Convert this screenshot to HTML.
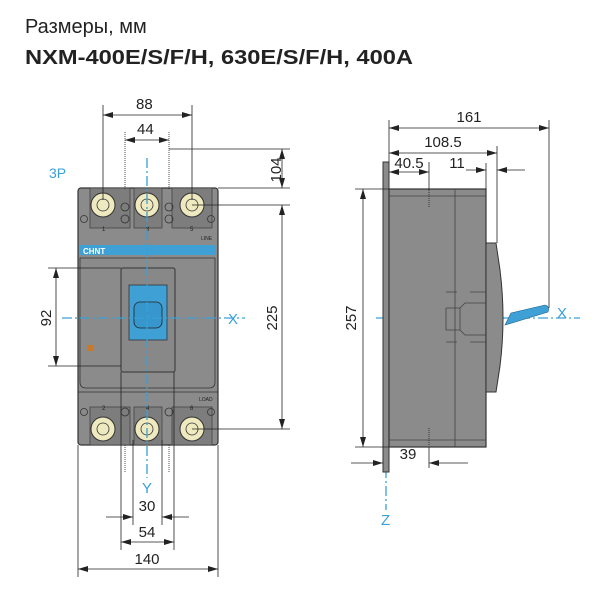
<!DOCTYPE html>
<html><head><meta charset="utf-8"><style>
html,body{margin:0;padding:0;background:#fff}
svg{display:block}
text{font-family:"Liberation Sans","DejaVu Sans",sans-serif;fill:#222}
</style></head><body>
<svg width="600" height="600" viewBox="0 0 600 600" xmlns="http://www.w3.org/2000/svg">
<defs>
<marker id="a" viewBox="0 0 10 6" refX="10" refY="3" markerWidth="10" markerHeight="6" orient="auto-start-reverse" markerUnits="userSpaceOnUse"><path d="M0,0 L10,3 L0,6z" fill="#222"/></marker>
</defs>
<text x="25" y="33" font-size="20">Размеры, мм</text>
<text x="25" y="64" font-size="20" font-weight="bold" textLength="388" lengthAdjust="spacingAndGlyphs">NXM-400E/S/F/H, 630E/S/F/H, 400A</text>

<!-- FRONT VIEW body -->
<rect x="78" y="188" width="140" height="257" rx="3" fill="#8b8b8b" stroke="#333" stroke-width="1.2"/>
<rect x="90" y="188" width="40" height="40" fill="#7d7d7d" stroke="#444" stroke-width="0.8"/>
<rect x="134" y="188" width="28" height="40" fill="#7d7d7d" stroke="#444" stroke-width="0.8"/>
<rect x="172" y="188" width="40" height="40" fill="#7d7d7d" stroke="#444" stroke-width="0.8"/>
<rect x="90" y="407" width="40" height="38" fill="#7d7d7d" stroke="#444" stroke-width="0.8"/>
<rect x="134" y="407" width="28" height="38" fill="#7d7d7d" stroke="#444" stroke-width="0.8"/>
<rect x="172" y="407" width="40" height="38" fill="#7d7d7d" stroke="#444" stroke-width="0.8"/>
<g fill="#efe9c0" stroke="#333" stroke-width="1">
<circle cx="103" cy="205" r="12"/><circle cx="147" cy="205" r="12"/><circle cx="192" cy="205" r="12"/>
<circle cx="103" cy="429" r="12"/><circle cx="147" cy="429" r="12"/><circle cx="192" cy="429" r="12"/>
</g>
<g fill="none" stroke="#333" stroke-width="0.8">
<circle cx="103" cy="205" r="6"/><circle cx="147" cy="205" r="6"/><circle cx="192" cy="205" r="6"/>
<circle cx="103" cy="429" r="6"/><circle cx="147" cy="429" r="6"/><circle cx="192" cy="429" r="6"/>
<circle cx="125" cy="207" r="4"/><circle cx="169" cy="207" r="4"/><circle cx="125" cy="219" r="4"/><circle cx="169" cy="219" r="4"/>
<circle cx="84" cy="219" r="3.5"/><circle cx="211" cy="219" r="3.5"/>
<circle cx="125" cy="412" r="4"/><circle cx="169" cy="412" r="4"/><circle cx="84" cy="412" r="3.5"/><circle cx="211" cy="412" r="3.5"/>
<path d="M80 258 H215 V382 Q215 388 209 388 H86 Q80 388 80 382Z"/>
<line x1="78" y1="392" x2="218" y2="392"/>
</g>
<text x="102" y="231" font-size="6" fill="#333">1</text><text x="146" y="231" font-size="6">3</text><text x="190" y="231" font-size="6">5</text>
<text x="201" y="240" font-size="5">LINE</text>
<text x="199" y="401" font-size="5">LOAD</text>
<text x="102" y="410" font-size="6">2</text><text x="146" y="410" font-size="6">4</text><text x="190" y="410" font-size="6">6</text>
<path d="M80 245 H213 Q216 245 216 248 V255 H80Z" fill="#3fa0d6"/>
<text x="83" y="254" font-size="8" font-weight="bold" style="fill:#fff">CHNT</text>
<rect x="121" y="268" width="54" height="104" rx="2" fill="#888" stroke="#333" stroke-width="1"/>
<rect x="129" y="285" width="38" height="55" fill="#3fa0d6" stroke="#333" stroke-width="0.8"/>
<rect x="134" y="302" width="28" height="26" rx="6" fill="#3796cc" stroke="#222" stroke-width="0.8"/>
<rect x="87" y="345" width="6" height="6" fill="#c67a2a"/>

<!-- centerlines -->
<g stroke="#3aa0d8" stroke-width="1.3" stroke-dasharray="10,3,2,3" fill="none">
<line x1="147" y1="158" x2="147" y2="478"/>
<line x1="62" y1="318" x2="245" y2="318"/>
<line x1="376" y1="318" x2="580" y2="318"/>
<line x1="386" y1="180" x2="386" y2="510"/>
</g>
<text x="49" y="178" font-size="14" style="fill:#3aa0d8">3P</text>
<text x="228" y="324" font-size="15" style="fill:#3aa0d8">X</text>
<text x="142" y="493" font-size="15" style="fill:#3aa0d8">Y</text>
<text x="557" y="318" font-size="15" style="fill:#3aa0d8">X</text>
<text x="381" y="525" font-size="15" style="fill:#3aa0d8">Z</text>

<!-- front dimensions -->
<g stroke="#222" stroke-width="0.8" fill="none">
<line x1="103" y1="105" x2="103" y2="200"/><line x1="192" y1="105" x2="192" y2="200"/>
<line x1="103" y1="115" x2="192" y2="115" marker-start="url(#a)" marker-end="url(#a)"/>
<line x1="125" y1="132" x2="125" y2="190" stroke-dasharray="1,1"/><line x1="169" y1="132" x2="169" y2="190" stroke-dasharray="1,1"/>
<line x1="125" y1="140" x2="169" y2="140" marker-start="url(#a)" marker-end="url(#a)"/>
<line x1="169" y1="149" x2="290" y2="149"/><line x1="218" y1="188" x2="290" y2="188"/>
<line x1="282" y1="149" x2="282" y2="188" marker-start="url(#a)" marker-end="url(#a)"/>
<line x1="192" y1="205" x2="290" y2="205"/><line x1="192" y1="429" x2="290" y2="429"/>
<line x1="282" y1="205" x2="282" y2="429" marker-start="url(#a)" marker-end="url(#a)"/>
<line x1="48" y1="268" x2="121" y2="268"/><line x1="48" y1="366" x2="121" y2="366"/>
<line x1="56" y1="268" x2="56" y2="366" marker-start="url(#a)" marker-end="url(#a)"/>
<line x1="125" y1="445" x2="125" y2="472" stroke-dasharray="1,1"/><line x1="169" y1="445" x2="169" y2="472" stroke-dasharray="1,1"/>
<line x1="133" y1="440" x2="133" y2="525"/><line x1="162" y1="440" x2="162" y2="525"/>
<line x1="106" y1="517" x2="133" y2="517" marker-end="url(#a)"/><line x1="189" y1="517" x2="162" y2="517" marker-end="url(#a)"/>
<line x1="121" y1="372" x2="121" y2="550"/><line x1="174" y1="372" x2="174" y2="550"/>
<line x1="121" y1="542" x2="174" y2="542" marker-start="url(#a)" marker-end="url(#a)"/>
<line x1="78" y1="445" x2="78" y2="577"/><line x1="218" y1="445" x2="218" y2="577"/>
<line x1="78" y1="569" x2="218" y2="569" marker-start="url(#a)" marker-end="url(#a)"/>
</g>
<g font-size="15">
<text x="136" y="109">88</text>
<text x="137" y="134">44</text>
<text x="276" y="170" transform="rotate(-90 276 170)" text-anchor="middle" dy="5">104</text>
<text x="272" y="318" transform="rotate(-90 272 318)" text-anchor="middle" dy="5">225</text>
<text x="46" y="318" transform="rotate(-90 46 318)" text-anchor="middle" dy="5">92</text>
<text x="147" y="511" text-anchor="middle">30</text>
<text x="147" y="537" text-anchor="middle">54</text>
<text x="147" y="564" text-anchor="middle">140</text>
</g>

<!-- SIDE VIEW -->
<rect x="383" y="162" width="6" height="310" fill="#8b8b8b" stroke="#333" stroke-width="1"/>
<rect x="389" y="189" width="97" height="258" fill="#8b8b8b" stroke="#333" stroke-width="1.2"/>
<g stroke="#444" stroke-width="0.8" fill="none">
<line x1="455" y1="189" x2="455" y2="447"/>
<line x1="389" y1="196" x2="486" y2="196"/><line x1="389" y1="440" x2="486" y2="440"/>
<path d="M446 292 H457 M470 292 H486 M446 342 H457 M470 342 H486"/>
<path d="M446 308 H460 L465 303 H486 M446 330 H460 L465 335 H486 M446 308 V330 M460 308 V330"/>
<line x1="429" y1="190" x2="429" y2="208" stroke-dasharray="1,1" stroke="#222"/>
<line x1="429" y1="428" x2="429" y2="446" stroke-dasharray="1,1" stroke="#222"/>
</g>
<path d="M486 243 H496 L500 270 Q506 318 500 366 L496 392 H486Z" fill="#8b8b8b" stroke="#333" stroke-width="1"/>
<path d="M505 325 L511 313 L545 305 Q550 306 548 312 L512 323 Z" fill="#3fa0d6" stroke="#1d5f8a" stroke-width="0.6"/>

<g stroke="#222" stroke-width="0.8" fill="none">
<line x1="389" y1="120" x2="389" y2="162"/>
<line x1="549" y1="120" x2="549" y2="308"/>
<line x1="389" y1="128" x2="549" y2="128" marker-start="url(#a)" marker-end="url(#a)"/>
<line x1="497" y1="146" x2="497" y2="243"/>
<line x1="389" y1="153" x2="497" y2="153" marker-start="url(#a)" marker-end="url(#a)"/>
<line x1="429" y1="162" x2="429" y2="190"/>
<line x1="389" y1="172" x2="429" y2="172" marker-start="url(#a)" marker-end="url(#a)"/>
<line x1="486" y1="163" x2="486" y2="189"/>
<line x1="466" y1="170" x2="486" y2="170" marker-end="url(#a)"/>
<line x1="525" y1="170" x2="497" y2="170" marker-end="url(#a)"/>
<line x1="355" y1="189" x2="389" y2="189"/><line x1="355" y1="447" x2="389" y2="447"/>
<line x1="363" y1="189" x2="363" y2="447" marker-start="url(#a)" marker-end="url(#a)"/>
<line x1="429" y1="447" x2="429" y2="468"/>
<line x1="351" y1="463" x2="383" y2="463" marker-end="url(#a)"/>
<line x1="468" y1="463" x2="429" y2="463" marker-end="url(#a)"/>
</g>
<g font-size="15">
<text x="469" y="122" text-anchor="middle">161</text>
<text x="443" y="147" text-anchor="middle">108.5</text>
<text x="409" y="168" text-anchor="middle">40.5</text>
<text x="457" y="168" text-anchor="middle">11</text>
<text x="351" y="318" transform="rotate(-90 351 318)" text-anchor="middle" dy="5">257</text>
<text x="408" y="459" text-anchor="middle">39</text>
</g>
</svg>
</body></html>
